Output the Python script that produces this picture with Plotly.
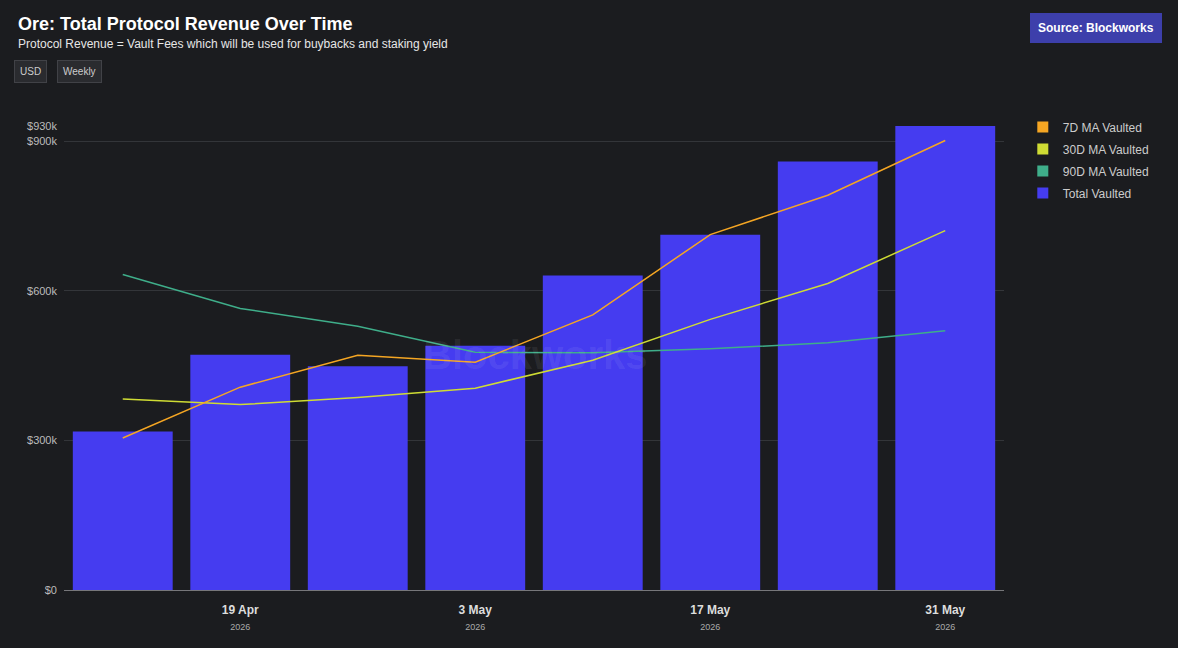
import plotly.graph_objects as go

# weekly data
weeks = ["2026-04-12", "2026-04-19", "2026-04-26", "2026-05-03",
         "2026-05-10", "2026-05-17", "2026-05-24", "2026-05-31"]
total_vaulted = [318000, 472000, 449000, 490000, 631000, 713000, 860000, 931000]
ma_7d = [305000, 407000, 471000, 457000, 552000, 713000, 792000, 902000]
ma_30d = [383000, 372000, 386000, 405000, 461000, 543000, 615000, 721000]
ma_90d = [633000, 565000, 529000, 477000, 476000, 484000, 496000, 520000]

y_ticks = [0, 300000, 600000, 900000, 930000]
y_labels = ["$0", "$300k", "$600k", "$900k", "$930k"]
x_ticks = ["2026-04-19", "2026-05-03", "2026-05-17", "2026-05-31"]
x_labels = ["19 Apr", "3 May", "17 May", "31 May"]

BG = "#1b1c1f"
FONT = "Helvetica, Arial, Liberation Sans, sans-serif"
c_bar = "#453cf0"
c_7d = "#f5a623"
c_30d = "#cfdc34"
c_90d = "#3fae8a"

fig = go.Figure()

fig.add_trace(go.Bar(x=weeks, y=total_vaulted, name="Total Vaulted",
                     marker_color=c_bar, marker_line_width=0, showlegend=False))
fig.add_trace(go.Scatter(x=weeks, y=ma_90d, mode="lines", line=dict(color=c_90d, width=1.5),
                         showlegend=False))
fig.add_trace(go.Scatter(x=weeks, y=ma_30d, mode="lines", line=dict(color=c_30d, width=1.5),
                         showlegend=False))
fig.add_trace(go.Scatter(x=weeks, y=ma_7d, mode="lines", line=dict(color=c_7d, width=1.5),
                         showlegend=False))

# legend entries with square swatches
for name, col in [("7D MA Vaulted", c_7d), ("30D MA Vaulted", c_30d),
                  ("90D MA Vaulted", c_90d), ("Total Vaulted", c_bar)]:
    fig.add_trace(go.Scatter(x=[None], y=[None], mode="markers", name=name, legendgroup=name,
                             marker=dict(symbol="square", size=11, color=col)))

tick_text = [f"<b>{t}</b><br><span style='font-size:9px;color:#aaaaaa'>2026</span>" for t in x_labels]

fig.update_layout(
    width=1178, height=648,
    paper_bgcolor=BG, plot_bgcolor=BG,
    font=dict(family=FONT, color="#cccccc", size=12),
    margin=dict(l=64, r=174, t=126, b=58),
    bargap=0.15,
    showlegend=True,
    legend=dict(x=1.02, y=1.029, xanchor="left", yanchor="top",
                font=dict(size=12, color="#cccccc"), bgcolor="rgba(0,0,0,0)",
                traceorder="grouped", tracegroupgap=3, itemwidth=30),
    xaxis=dict(type="date", range=["2026-04-08 12:00", "2026-06-03 12:00"],
               tickvals=x_ticks, ticktext=tick_text, tickfont=dict(size=12, color="#dddddd"),
               showgrid=False, showline=True, linecolor="#77777a", linewidth=1,
               ticks="", zeroline=False, ticklabelstandoff=9),
    yaxis=dict(range=[0, 931000], tickvals=y_ticks, ticktext=y_labels,
               tickfont=dict(size=11, color="#bbbbbb"), gridcolor="#333539",
               gridwidth=1, zeroline=False, showline=False, ticks="", ticklabelstandoff=6),
)

# header text
fig.add_annotation(text="<b>Ore: Total Protocol Revenue Over Time</b>", xref="paper", yref="paper",
                   x=(16 - 64) / 940, y=1 + (126 - 24) / 464, xanchor="left", yanchor="middle",
                   showarrow=False, font=dict(size=18, color="#ffffff"))
fig.add_annotation(text="Protocol Revenue = Vault Fees which will be used for buybacks and staking yield",
                   xref="paper", yref="paper",
                   x=(16 - 64) / 940, y=1 + (126 - 44) / 464, xanchor="left", yanchor="middle",
                   showarrow=False, font=dict(size=12, color="#e6e6e6"))

# buttons
for label, px in [("USD", 14), ("Weekly", 57)]:
    fig.add_annotation(text=label, xref="paper", yref="paper",
                       x=(px - 64) / 940, y=1 + (126 - 72) / 464, xanchor="left", yanchor="middle",
                       showarrow=False, font=dict(size=10, color="#cccccc"),
                       bgcolor="#2a2b2f", bordercolor="#414247", borderwidth=1, borderpad=5)

fig.add_annotation(text="<b>Source: Blockworks</b>", xref="paper", yref="paper",
                   x=(1162 - 64) / 940, y=1 + (126 - 28) / 464, xanchor="right", yanchor="middle",
                   showarrow=False, font=dict(size=12, color="#ffffff"),
                   bgcolor="#3d3fab", bordercolor="#3d3fab", borderwidth=1, borderpad=7)

# watermark
fig.add_annotation(text="<b>Blockworks</b>", xref="paper", yref="paper",
                   x=(535 - 64) / 940, y=(590 - 355) / 464, xanchor="center", yanchor="middle",
                   showarrow=False, font=dict(size=40, color="rgba(255,255,255,0.07)"))

fig.write_html("out.html", config={"displayModeBar": False},
               post_script="document.body.style.margin='0';document.body.style.background='#1b1c1f';")
